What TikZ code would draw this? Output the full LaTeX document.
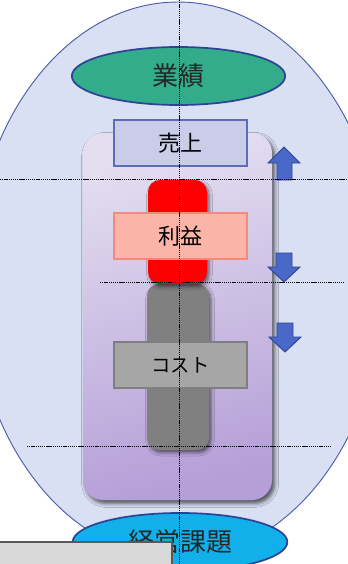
\documentclass[tikz,border=0pt]{standalone}
\usepackage{fontspec}
\newfontfamily\jp{Noto Sans CJK JP}
\usetikzlibrary{shadows.blur,shapes.geometric}
\definecolor{bigfill}{HTML}{DAE0F4}
\definecolor{bigline}{HTML}{4A5DAA}
\definecolor{greenfill}{HTML}{33AC8C}
\definecolor{darkblue}{HTML}{2E4396}
\definecolor{salesfill}{HTML}{C9CDE8}
\definecolor{salesline}{HTML}{5B6DB8}
\definecolor{profitfill}{HTML}{FAB4A8}
\definecolor{profitline}{HTML}{F58A7C}
\definecolor{costfill}{HTML}{A6A6A6}
\definecolor{costline}{HTML}{7F7F7F}
\definecolor{arrowfill}{HTML}{4A68C8}
\definecolor{cyanfill}{HTML}{12B0EA}
\definecolor{purtop}{HTML}{E4DEF0}
\definecolor{purbot}{HTML}{B59FD8}
\definecolor{notefill}{HTML}{D9D9D9}
\definecolor{noteline}{HTML}{595959}
\tikzset{
  guide/.style={black, line width=0.55pt, dash pattern=on 1pt off 0.6pt},
  label box/.style={draw, line width=1.1pt, minimum width=99.75pt, minimum height=34.5pt, inner sep=0pt, font=\jp\fontsize{16.5}{18}\selectfont},
  oval/.style={ellipse, draw=darkblue, line width=1.3pt, minimum width=160pt, minimum height=43.5pt, inner sep=0pt, text=black!85, font=\jp\fontsize{19.5}{21}\selectfont},
  bar/.style={rounded corners=9pt, blur shadow={shadow xshift=1.5pt, shadow yshift=-2pt, shadow blur radius=2.5pt, shadow opacity=55}},
  blockarrow/.style={fill=arrowfill, draw=darkblue, line width=0.7pt, line join=miter}
}
\begin{document}
\begin{tikzpicture}[x=0.75pt,y=-0.75pt]
\useasboundingbox (0,0) rectangle (348,564);
\begin{scope}
\clip (0,0) rectangle (348,564);
% big background ellipse
\draw[fill=bigfill, draw=bigline, line width=0.7pt] (178,280) ellipse [x radius=206, y radius=278];
% purple panel
\path[rounded corners=15pt, shading=axis, top color=purtop, bottom color=purbot, shading angle=15,
  blur shadow={shadow xshift=2pt, shadow yshift=-2.5pt, shadow blur radius=3pt, shadow opacity=65}]
  (83,133) rectangle (272,500);
% gray and red bars
\path[bar, fill=black!50] (147,284) rectangle (209,450);
\path[bar, fill=red] (148,180) rectangle (207,284);
% label boxes
\node[oval, fill=greenfill] (perf) at (178.5,76) {業績};
\node[label box, fill=salesfill, draw=salesline] (sales) at (180.5,143) {売上};
\node[label box, fill=profitfill, draw=profitline] (profit) at (180.5,236) {利益};
\node[label box, fill=costfill, draw=costline, font=\jp\fontsize{14.5}{16}\selectfont] (cost) at (180.5,365) {コスト};
% arrows
\draw[blockarrow] (277,180) -- (277,163) -- (268,163) -- (284,147) -- (300,163) -- (292,163) -- (292,180) -- cycle;
\draw[blockarrow] (276,253) -- (276,267) -- (268,267) -- (284,282) -- (300,267) -- (292,267) -- (292,253) -- cycle;
\draw[blockarrow] (277,323) -- (277,337) -- (269,337) -- (285,352) -- (301,337) -- (293,337) -- (293,323) -- cycle;
% bottom ellipse
\node[oval, fill=cyanfill, minimum width=161pt] (issue) at (180,542) {経営課題};
% guide lines
\coordinate (vt) at (179,0);
\coordinate (vb) at (179,564);
\coordinate (h1a) at (0,179);
\coordinate (h1b) at (348,179);
\coordinate (h2a) at (100,282);
\coordinate (h2b) at (344,282);
\coordinate (h3a) at (27,446);
\coordinate (h3b) at (330,446);
\draw[guide] (vt) -- (vb);
\draw[guide] (h1a) -- (h1b);
\draw[guide] (h2a) -- (h2b);
\draw[guide] (h3a) -- (h3b);
% note box at bottom left
\draw[fill=notefill, draw=noteline, line width=0.8pt] (-2,542) rectangle (172,570);
\end{scope}
\end{tikzpicture}
\end{document}
